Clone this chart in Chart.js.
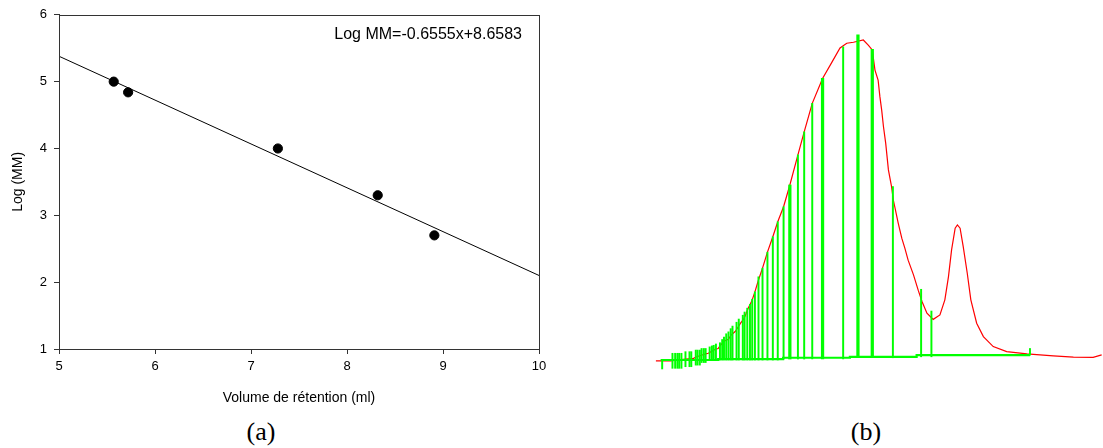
<!DOCTYPE html>
<html><head><meta charset="utf-8">
<script src="https://cdn.jsdelivr.net/npm/chart.js@4.4.1/dist/chart.umd.min.js"></script>
<style>
html,body{margin:0;padding:0;background:#fff;width:1103px;height:448px;overflow:hidden;}
#ca{position:absolute;left:0;top:0;}
#cb{position:absolute;left:640px;top:0;}
.lbl{position:absolute;font-family:"Liberation Serif","Times New Roman",serif;font-size:26px;line-height:26px;width:100px;text-align:center;color:#000;top:419px;}
#eq{position:absolute;font-family:"Liberation Sans",Arial,sans-serif;font-size:16px;line-height:16px;right:581px;top:26px;color:#000;white-space:nowrap;}
</style></head>
<body>
<canvas id="ca" width="560" height="412"></canvas>
<canvas id="cb" width="463" height="400"></canvas>
<div id="eq">Log MM=-0.6555x+8.6583</div>
<div class="lbl" style="left:211px">(a)</div>
<div class="lbl" style="left:816px">(b)</div>
<script>
// ---------- Panel (a) data ----------
const volumes = [5.57, 5.72, 7.28, 8.32, 8.91];
const logMM   = [5.0, 4.84, 4.0, 3.3, 2.7];
const fitX = [5, 10];
const fitY = [5.38, 2.10];
const xTicks = [5, 6, 7, 8, 9, 10];
const yTicks = [1, 2, 3, 4, 5, 6];
const xTitle = 'Volume de rétention (ml)';
const yTitle = 'Log (MM)';

// ---------- Panel (b) data (arbitrary units) ----------
const chromX = [0.2,3.5,6.3,8.6,9.3,11.5,11.9,13.5,14.1,14.5,15.0,15.6,16.4,17.0,17.9,18.6,19.1,19.7,20.1,20.8,21.6,22.3,23.1,24.0,25.1,26.3,27.4,28.7,30.1,31.9,33.3,35.1,37.4,39.5,41.3,42.8,44.3,46.5,47.6,48.5,49.1,49.8,50.2,50.6,51.0,51.5,52.1,52.8,53.2,54.3,55.1,55.8,56.5,57.7,58.8,59.6,60.7,62.1,63.6,64.7,65.5,66.2,67.0,67.5,68.1,68.8,69.7,70.5,71.8,73.3,75.5,78.5,83.0,88.9,93.4,97.8,99.7];
const chromY = [-0.3,-0.3,0.2,0.5,1.0,2.0,2.1,3.4,3.6,4.4,5.2,6.0,6.5,7.8,8.9,10.4,11.5,12.6,13.7,16.2,18.4,21.3,25.0,28.7,33.7,38.5,43.2,47.9,54.7,64.1,71.3,80.2,88.0,93.1,97.5,99.0,99.3,100,98.4,96.9,90.6,87.5,82.3,78.1,72.9,67.7,59.4,54.2,50.0,42.7,38.0,34.8,31.2,26.6,21.6,18.3,14.6,12.7,14.1,18.8,26.0,34.4,41.2,42.2,41.2,35.4,27.1,18.8,11.5,7.3,4.2,2.6,1.9,1.3,0.9,0.8,1.6];
const baseX = [1.5, 14.1, 28.6, 43.5, 58.4, 72.5, 83.7];
const baseY = [-0.2, 0, 0.3, 0.7, 1.0, 1.5, 1.5];
const sliceX    = [1.6,3.9,4.5,5.0,5.4,5.9,6.8,7.7,8.1,9.1,9.5,10.0,10.4,10.9,11.3,12.2,12.7,13.1,13.6,14.5,15.0,15.4,15.9,16.4,16.9,17.3,18.2,18.7,19.6,20.0,20.6,21.2,21.7,22.3,23.1,24.0,25.1,26.3,27.4,28.7,31.9,33.3,35.1,42.0,53.1,59.4,61.7,83.7];
const sliceLow  = [-2.8,-2.6,-2.6,-2.6,-2.6,-2.6,-2.1,-2.1,-2.1,-1.6,-1.6,-1.6,-0.8,-0.8,-0.8,-0.2,-0.2,-0.2,-0.2,0,0,0,0,0,0,0,0,0,0,0,0,0,0,0,0,0,0,0,0,0.3,0.3,0.3,0.3,0.3,0.7,1.0,1.0,1.5];
const sliceHigh = [-0.2,2.1,2.1,2.1,2.1,2.1,2.6,2.6,2.6,3.1,3.1,3.1,3.6,3.6,3.6,4.1,4.4,4.6,5.0,5.4,6.4,7.2,8.2,8.8,9.8,10.6,11.8,12.8,14.0,15.0,16.2,17.4,19.0,21.3,26.0,28.7,33.7,38.5,43.2,47.9,64.1,71.3,80.2,97.9,54.2,22.1,15.3,3.6];
const thickX    = [30.1, 37.4, 45.3, 48.5];
const thickLow  = [0.3, 0.3, 0.7, 0.7];
const thickHigh = [54.7, 88.0, 101.6, 97.1];

const sans = '"Liberation Sans", Arial, sans-serif';

const frame = {
  id: 'frame',
  afterDatasetsDraw(c) {
    const a = c.chartArea, ctx = c.ctx;
    ctx.save();
    ctx.strokeStyle = '#333';
    ctx.lineWidth = 1;
    ctx.strokeRect(Math.round(a.left) + 0.5, Math.round(a.top) + 0.5,
                   Math.round(a.right - a.left), Math.round(a.bottom - a.top));
    ctx.restore();
  }
};

new Chart(document.getElementById('ca'), {
  type: 'scatter',
  data: {
    datasets: [
      {
        type: 'scatter',
        data: volumes.map((v, i) => ({x: v, y: logMM[i]})),
        backgroundColor: '#000', borderColor: '#000',
        pointRadius: 4.6, pointHoverRadius: 4.6, order: 0
      },
      {
        type: 'line',
        data: fitX.map((v, i) => ({x: v, y: fitY[i]})),
        borderColor: '#000', borderWidth: 1, pointRadius: 0, fill: false, order: 1
      }
    ]
  },
  options: {
    responsive: false, animation: false,
    layout: {padding: {left: 6, top: 13, right: 21, bottom: 0}},
    plugins: {legend: {display: false}, tooltip: {enabled: false}},
    scales: {
      x: {
        type: 'linear', min: 5, max: 10,
        afterBuildTicks: s => { s.ticks = xTicks.map(v => ({value: v})); },
        ticks: {color: '#000', font: {family: sans, size: 13}, padding: 5, maxRotation: 0},
        grid: {display: true, drawOnChartArea: false, drawTicks: true, tickLength: 5, color: '#333'},
        border: {display: true, color: '#333'},
        title: {display: true, text: xTitle, color: '#000', font: {family: sans, size: 14}, padding: {top: 0, bottom: 5}},
        afterFit: s => { s.height = 63; }
      },
      y: {
        type: 'linear', min: 1, max: 6,
        afterBuildTicks: s => { s.ticks = yTicks.map(v => ({value: v})); },
        ticks: {color: '#000', font: {family: sans, size: 13}, padding: 7},
        grid: {display: true, drawOnChartArea: false, drawTicks: true, tickLength: 5, color: '#333'},
        border: {display: true, color: '#333'},
        title: {display: true, text: yTitle, color: '#000', font: {family: sans, size: 14}, padding: {top: 4, bottom: 0}},
        afterFit: s => { s.width = 53; }
      }
    }
  },
  plugins: [frame]
});

new Chart(document.getElementById('cb'), {
  type: 'line',
  data: {
    datasets: [
      {
        type: 'bar',
        data: sliceX.map((v, i) => ({x: v, y: [sliceLow[i], sliceHigh[i]]})),
        backgroundColor: '#00ff00', borderWidth: 0, barThickness: 1.3, grouped: false, order: 0
      },
      {
        type: 'bar',
        data: thickX.map((v, i) => ({x: v, y: [thickLow[i], thickHigh[i]]})),
        backgroundColor: '#00ff00', borderWidth: 0, barThickness: 2.6, grouped: false, order: 0
      },
      {
        type: 'line',
        data: baseX.map((v, i) => ({x: v, y: baseY[i]})),
        borderColor: '#00ff00', borderWidth: 2.2, pointRadius: 0, stepped: 'after', fill: false, order: 1
      },
      {
        type: 'line',
        data: chromX.map((v, i) => ({x: v, y: chromY[i]})),
        borderColor: '#ff0000', borderWidth: 1.2, pointRadius: 0, tension: 0, fill: false, order: 2
      }
    ]
  },
  options: {
    responsive: false, animation: false,
    layout: {padding: {left: 15, right: 0, top: 24, bottom: 24}},
    plugins: {legend: {display: false}, tooltip: {enabled: false}},
    scales: {
      x: {type: 'linear', min: 0, max: 100, display: false, offset: false},
      y: {type: 'linear', min: -5, max: 105, display: false}
    }
  }
});
</script>
</body></html>
